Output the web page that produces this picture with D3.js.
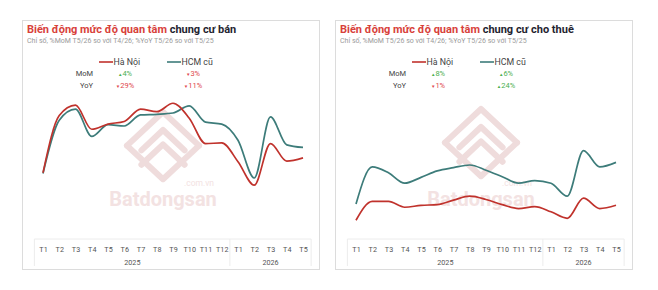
<!DOCTYPE html>
<html>
<head>
<meta charset="utf-8">
<script src="https://cdn.jsdelivr.net/npm/d3@7"></script>
<style>
  body { margin: 0; background: #fff; font-family: Roboto, "Noto Sans", sans-serif; }
  svg { display: block; }
</style>
</head>
<body>
<svg id="chart" width="658" height="290"></svg>
<script>
// months shown on the category axis
var months = ['T1', 'T2', 'T3', 'T4', 'T5', 'T6', 'T7', 'T8', 'T9', 'T10', 'T11', 'T12', 'T1', 'T2', 'T3', 'T4', 'T5'];
var years = [{ label: '2025', from: 0, to: 11 }, { label: '2026', from: 12, to: 16 }];

// interest index, sale apartments
var saleHanoi = [44, 88, 96, 77.5, 81.5, 83.5, 93, 91, 97.5, 86, 66.5, 67, 52.5, 34.5, 66.5, 53, 55.5];
var saleHcm = [43.5, 84.5, 93, 72, 81, 80, 88.5, 89, 90, 95.5, 83, 81.5, 69, 40, 87, 65.5, 63.5];

// interest index, rental apartments
var rentHanoi = [7.5, 22, 22, 17.5, 19, 19.5, 23, 26, 23.5, 19.5, 16.5, 18, 14, 9, 24.5, 16.5, 19];
var rentHcm = [20, 48.5, 44, 36, 40.5, 45.5, 48, 50, 46, 41, 36, 38, 36, 26, 61, 48.5, 52];

var saleStats = { mom: [['▲', '4%', 'up'], ['▼', '3%', 'down']], yoy: [['▼', '29%', 'down'], ['▼', '11%', 'down']] };
var rentStats = { mom: [['▲', '8%', 'up'], ['▲', '6%', 'up']], yoy: [['▼', '1%', 'down'], ['▲', '24%', 'up']] };

var RED = '#c0322c';
var TEAL = '#3d7c7a';

var svg = d3.select('#chart');

function drawLogo(g, cx, cy, s) {
    var wm = g.append('g')
        .attr('transform', 'translate(' + cx + ',' + cy + ')')
        .attr('fill', 'none')
        .attr('stroke', '#efdcdc')
        .attr('stroke-width', 5 * s)
        .attr('stroke-linejoin', 'round')
        .attr('stroke-linecap', 'round');
    // outer roof
    wm.append('path').attr('d', 'M' + (-30 * s) + ',' + (-2 * s) + ' L0,' + (-30 * s) + ' L' + (30 * s) + ',' + (-2 * s));
    // diamond base
    wm.append('path').attr('d', 'M' + (-30 * s) + ',' + (-2 * s) + ' L0,' + (26 * s) + ' L' + (30 * s) + ',' + (-2 * s));
    // inner chevrons
    wm.append('path').attr('d', 'M' + (-18 * s) + ',' + (2 * s) + ' L0,' + (-15 * s) + ' L' + (18 * s) + ',' + (2 * s));
    wm.append('path').attr('d', 'M' + (-18 * s) + ',' + (14 * s) + ' L0,' + (-3 * s) + ' L' + (18 * s) + ',' + (14 * s));
}

function drawPanel(opt) {
    var g = svg.append('g').attr('transform', 'translate(' + opt.x + ',20)');
    var w = 297, h = 249;

    g.append('rect')
        .attr('x', 0.5).attr('y', 0.5)
        .attr('width', w).attr('height', h)
        .attr('fill', '#fff')
        .attr('stroke', '#dcdcdc');

    // title
    var title = g.append('text')
        .attr('x', 5).attr('y', 13)
        .attr('font-size', 11)
        .attr('font-weight', 700);
    title.append('tspan').attr('fill', '#d8413a').text('Biến động mức độ quan tâm ');
    title.append('tspan').attr('fill', '#1f2430').text(opt.tail);

    g.append('text')
        .attr('x', 5).attr('y', 23)
        .attr('font-size', 7)
        .attr('fill', '#9a9a9a')
        .text('Chỉ số, %MoM T5/26 so với T4/26; %YoY T5/26 so với T5/25');

    // watermark
    drawLogo(g, opt.logoX, opt.logoY, 1.2);
    g.append('text')
        .attr('x', opt.logoX).attr('y', 186)
        .attr('text-anchor', 'middle')
        .attr('font-size', 20)
        .attr('font-weight', 700)
        .attr('fill', '#f3e2e2')
        .text('Batdongsan');
    g.append('text')
        .attr('x', opt.logoX + 51).attr('y', 166)
        .attr('text-anchor', 'end')
        .attr('font-size', 8.5)
        .attr('fill', '#f3e2e2')
        .text('.com.vn');

    // legend and stats
    var cols = [{ name: 'Hà Nội', color: RED, x: opt.legX }, { name: 'HCM cũ', color: TEAL, x: opt.legX + 68 }];
    cols.forEach(function(c, i) {
        g.append('line')
            .attr('x1', c.x).attr('x2', c.x + 14)
            .attr('y1', 42).attr('y2', 42)
            .attr('stroke', c.color).attr('stroke-width', 1.6);
        g.append('text')
            .attr('x', c.x + 14.5).attr('y', 45)
            .attr('font-size', 8.8)
            .attr('fill', '#444')
            .text(c.name);
        [['mom', 56], ['yoy', 68]].forEach(function(r) {
            var st = opt.stats[r[0]][i];
            var t = g.append('text')
                .attr('x', c.x + 26).attr('y', r[1])
                .attr('text-anchor', 'middle')
                .attr('font-size', 7.5)
                .attr('fill', st[2] === 'up' ? '#4caf50' : '#e0474c');
            t.append('tspan').attr('font-size', 4.5).attr('dy', -0.5).text(st[0]);
            t.append('tspan').attr('dy', 0.5).text(st[1]);
        });
    });
    g.append('text').attr('x', opt.legX - 6).attr('y', 56).attr('text-anchor', 'end')
        .attr('font-size', 7.5).attr('fill', '#444').text('MoM');
    g.append('text').attr('x', opt.legX - 6).attr('y', 68).attr('text-anchor', 'end')
        .attr('font-size', 7.5).attr('fill', '#444').text('YoY');

    // scales
    var x = d3.scalePoint()
        .domain(d3.range(months.length))
        .range([opt.x0, opt.x0 + 260]);
    var y = d3.scaleLinear()
        .domain([0, 100])
        .range([210, 80]);

    var line = d3.line()
        .x(function(d, i) { return x(i); })
        .y(function(d) { return y(d); })
        .curve(d3.curveMonotoneX);

    [[opt.hcm, TEAL], [opt.hanoi, RED]].forEach(function(s) {
        g.append('path')
            .datum(s[0])
            .attr('d', line)
            .attr('fill', 'none')
            .attr('stroke', s[1])
            .attr('stroke-width', 1.7);
    });

    // category table below the plot
    var step = x.step();
    var tLeft = opt.x0 - step / 2 - 0.5, tRight = opt.x0 + 260 + step / 2;
    var tTop = 219, tBot = 246;
    g.append('line').attr('x1', tLeft).attr('x2', tRight).attr('y1', tTop).attr('y2', tTop)
        .attr('stroke', '#ececec');
    g.append('line').attr('x1', tLeft).attr('x2', tLeft).attr('y1', tTop).attr('y2', tBot)
        .attr('stroke', '#ececec');
    g.append('line').attr('x1', tRight).attr('x2', tRight).attr('y1', tTop).attr('y2', tBot)
        .attr('stroke', '#ececec');

    var axis = d3.axisBottom(x)
        .tickSize(0)
        .tickPadding(0)
        .tickFormat(function(i) { return months[i]; });
    var ax = g.append('g').attr('transform', 'translate(0,' + 232 + ')').call(axis);
    ax.select('.domain').remove();
    ax.selectAll('text')
        .attr('font-size', 7.2)
        .attr('font-family', 'Roboto, sans-serif')
        .attr('fill', '#555')
        .attr('dy', 0);

    years.forEach(function(yr, k) {
        if (k > 0) {
            var sx = (x(yr.from) + x(yr.from - 1)) / 2;
            g.append('line').attr('x1', sx).attr('x2', sx).attr('y1', tTop).attr('y2', tBot)
                .attr('stroke', '#ececec');
        }
        g.append('text')
            .attr('x', (x(yr.from) + x(yr.to)) / 2)
            .attr('y', 245)
            .attr('text-anchor', 'middle')
            .attr('font-size', 7.2)
            .attr('fill', '#555')
            .text(yr.label);
    });
}

drawPanel({ x: 22, tail: 'chung cư bán', hanoi: saleHanoi, hcm: saleHcm, stats: saleStats,
    x0: 21, legX: 77, logoX: 141, logoY: 128 });
drawPanel({ x: 335, tail: 'chung cư cho thuê', hanoi: rentHanoi, hcm: rentHcm, stats: rentStats,
    x0: 21, legX: 77, logoX: 146, logoY: 125 });
</script>
</body>
</html>
